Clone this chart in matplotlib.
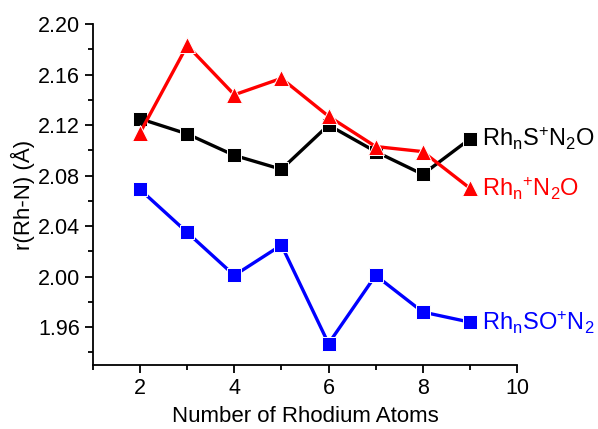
import matplotlib
matplotlib.use('Agg')
import matplotlib.pyplot as plt
from matplotlib.ticker import MultipleLocator, FormatStrFormatter

plt.rcParams['font.family'] = ['Liberation Sans', 'DejaVu Sans']
plt.rcParams['mathtext.default'] = 'regular'

# Rh-N bond length against cluster size for the three complexes
n_atoms = [2, 3, 4, 5, 6, 7, 8, 9]
rhs_n2o = [2.125, 2.113, 2.096, 2.085, 2.120, 2.099, 2.081, 2.109]
rh_n2o = [2.114, 2.183, 2.144, 2.157, 2.127, 2.103, 2.099, 2.070]
rhso_n2 = [2.069, 2.035, 2.001, 2.025, 1.947, 2.001, 1.972, 1.964]

labels = ['Rh$_n$S$^{+}$N$_2$O', 'Rh$_n$$^{+}$N$_2$O', 'Rh$_n$SO$^{+}$N$_2$']

fig = plt.figure(figsize=(5.98, 4.29), dpi=100)
ax = fig.add_axes([0.1555, 0.149, 0.709, 0.795])

ax.plot(n_atoms, rhs_n2o, color='black', lw=2.4, marker='s', ms=9.5,
        mec='white', mew=0.7, zorder=3)
ax.plot(n_atoms, rh_n2o, color='red', lw=2.4, marker='^', ms=11,
        mec='white', mew=0.7, zorder=4)
ax.plot(n_atoms, rhso_n2, color='blue', lw=2.4, marker='s', ms=9.5,
        mec='white', mew=0.7, zorder=3)

for ys, lab, c in zip([rhs_n2o, rh_n2o, rhso_n2], labels,
                      ['black', 'red', 'blue']):
    ax.annotate(lab, (n_atoms[-1], ys[-1]), xytext=(9, 0),
                textcoords='offset points', va='center', ha='left',
                fontsize=17, color=c)

ax.set_xlim(1, 10)
ax.set_ylim(1.93, 2.20)
ax.xaxis.set_major_locator(MultipleLocator(2))
ax.xaxis.set_minor_locator(MultipleLocator(1))
ax.yaxis.set_major_locator(MultipleLocator(0.04))
ax.yaxis.set_minor_locator(MultipleLocator(0.02))
ax.yaxis.set_major_formatter(FormatStrFormatter('%.2f'))

for side in ['top', 'right']:
    ax.spines[side].set_visible(False)
for side in ['left', 'bottom']:
    ax.spines[side].set_linewidth(1.3)
ax.tick_params(which='major', length=6, width=1.3, labelsize=15.5)
ax.tick_params(which='minor', length=3.5, width=1.3)

ax.set_xlabel('Number of Rhodium Atoms', fontsize=16, labelpad=5)
ax.set_ylabel('r(Rh-N) (Å)', fontsize=16, labelpad=2)

fig.savefig('out.png', dpi=100)
